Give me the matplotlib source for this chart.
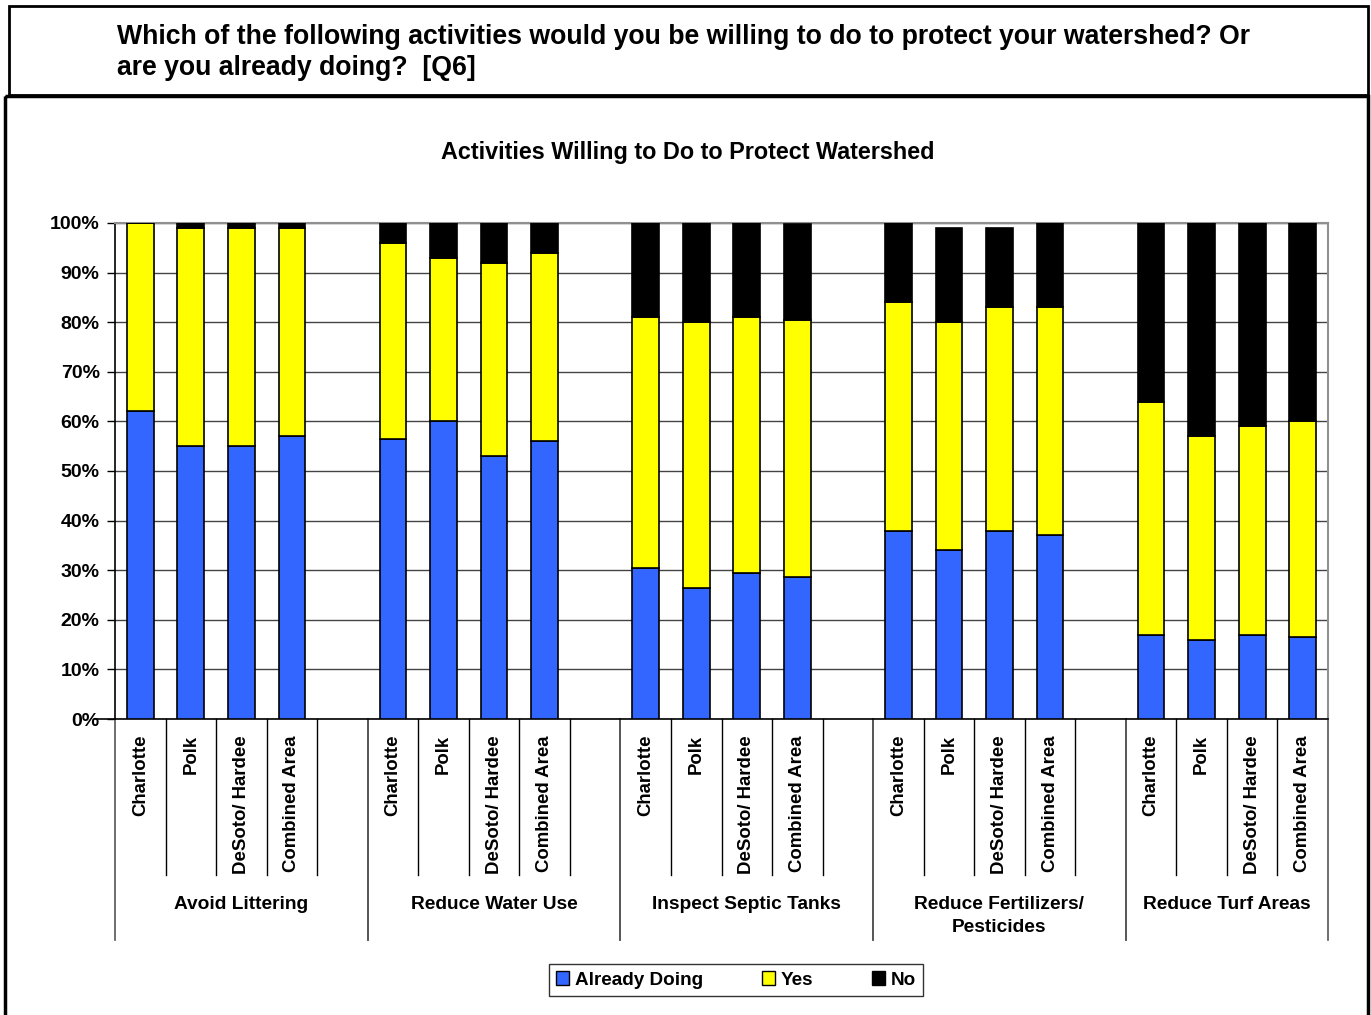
import matplotlib.pyplot as plt
from matplotlib.patches import Patch, Rectangle
from matplotlib.transforms import blended_transform_factory
import numpy as np

plt.rcParams['font.family'] = ['Liberation Sans', 'DejaVu Sans']
plt.rcParams['font.weight'] = 'bold'

# survey results, percent of respondents
groups = ['Avoid Littering', 'Reduce Water Use', 'Inspect Septic Tanks',
          'Reduce Fertilizers/\nPesticides', 'Reduce Turf Areas']
areas = ['Charlotte', 'Polk', 'DeSoto/ Hardee', 'Combined Area']

already_doing = [62, 55, 55, 57,
                 56.5, 60, 53, 56,
                 30.5, 26.5, 29.5, 28.7,
                 38, 34, 38, 37,
                 17, 16, 17, 16.5]
yes = [38, 44, 44, 42,
       39.5, 33, 39, 38,
       50.5, 53.5, 51.5, 51.8,
       46, 46, 45, 46,
       47, 41, 42, 43.5]
no = [0, 1, 1, 1,
      4, 7, 8, 6,
      19, 20, 19, 19.3,
      16, 19, 16, 17,
      36, 43, 41, 40]

W, H = 1371, 1015
fig = plt.figure(figsize=(W / 100, H / 100), dpi=100)

# page frame: header box and chart box
bg = fig.add_axes([0, 0, 1, 1], zorder=-1)
bg.set_xlim(0, W)
bg.set_ylim(H, 0)
bg.axis('off')
bg.add_patch(Rectangle((9, 6), 1359, 89, fill=False, ec='black', lw=2))
bg.add_patch(Rectangle((5, 96), 1363, 940, fill=False, ec='black', lw=2.5))

fig.text(117 / W, 1 - 37 / H,
         'Which of the following activities would you be willing to do to protect your watershed? Or',
         fontsize=19.2, ha='left', va='center')
fig.text(117 / W, 1 - 68 / H, 'are you already doing?  [Q6]',
         fontsize=19.2, ha='left', va='center')
fig.text(688 / W, 1 - 152 / H, 'Activities Willing to Do to Protect Watershed',
         fontsize=16.8, ha='center', va='center')

# plot area
x0, x1, ytop, ybot = 115, 1328, 223, 719
ax = fig.add_axes([x0 / W, 1 - ybot / H, (x1 - x0) / W, (ybot - ytop) / H])

n_slots = len(groups) * 5 - 1
pos = np.array([g * 5 + i for g in range(len(groups)) for i in range(len(areas))])

a = np.array(already_doing)
y = np.array(yes)
n = np.array(no)
bw = 0.53
ax.bar(pos, a, bw, color='#3366FF', edgecolor='black', lw=1.2, zorder=3, label='Already Doing')
ax.bar(pos, y, bw, bottom=a, color='#FFFF00', edgecolor='black', lw=1.2, zorder=3, label='Yes')
ax.bar(pos, n, bw, bottom=a + y, color='black', edgecolor='black', lw=1.2, zorder=3, label='No')

ax.set_xlim(-0.5, n_slots - 0.5)
ax.set_ylim(0, 100)
ax.set_yticks(np.arange(0, 101, 10))
ax.set_yticklabels([f'{v}%' for v in range(0, 101, 10)], fontsize=14)
ax.yaxis.grid(True, color='#444444', lw=1)
ax.set_axisbelow(True)
ax.set_xticks([])
ax.tick_params(axis='y', direction='out', length=6, width=1, pad=5)
for s in ['top', 'right']:
    ax.spines[s].set_color('#909090')
    ax.spines[s].set_linewidth(1.5)
for s in ['left', 'bottom']:
    ax.spines[s].set_color('black')
    ax.spines[s].set_linewidth(1.2)

# two-level category axis below the bars
tr = blended_transform_factory(ax.transData, fig.transFigure)
ax.plot([-0.9, -0.5], [0, 0], color='black', lw=1.2, clip_on=False)
for g in range(len(groups)):
    start = g * 5 - 0.5
    end = min(start + 5, n_slots - 0.5)
    for b in np.arange(start + 1, end, 1.0):
        ax.plot([b, b], [1 - ybot / H, 1 - 875 / H], color='black', lw=1,
                transform=tr, clip_on=False)
    for b in [start, end]:
        ax.plot([b, b], [1 - ybot / H, 1 - 940 / H], color='#555555', lw=1.2,
                transform=tr, clip_on=False)
    ax.text(start + 2.5 if g < len(groups) - 1 else (start + end) / 2, 1 - 896 / H,
            groups[g], transform=tr, ha='center', va='top', fontsize=13.8,
            linespacing=1.45)
for p, lab in zip(pos, areas * len(groups)):
    ax.text(p, 1 - 735 / H, lab, transform=tr, rotation=90, ha='center',
            va='top', fontsize=13.4)

handles = [Patch(facecolor=c, edgecolor='black', lw=1, label=l)
           for c, l in [('#3366FF', 'Already Doing'), ('#FFFF00', 'Yes'), ('black', 'No')]]
leg = fig.legend(handles=handles, loc='center', bbox_to_anchor=(736 / W, 1 - 980 / H),
                 ncol=3, frameon=True, fancybox=False, fontsize=13.6,
                 handlelength=0.7, handleheight=0.7, handletextpad=0.3,
                 columnspacing=3.1, borderpad=0.4, borderaxespad=0)
leg.get_frame().set_edgecolor('black')
leg.get_frame().set_linewidth(1)

fig.savefig('out.png', dpi=100)
